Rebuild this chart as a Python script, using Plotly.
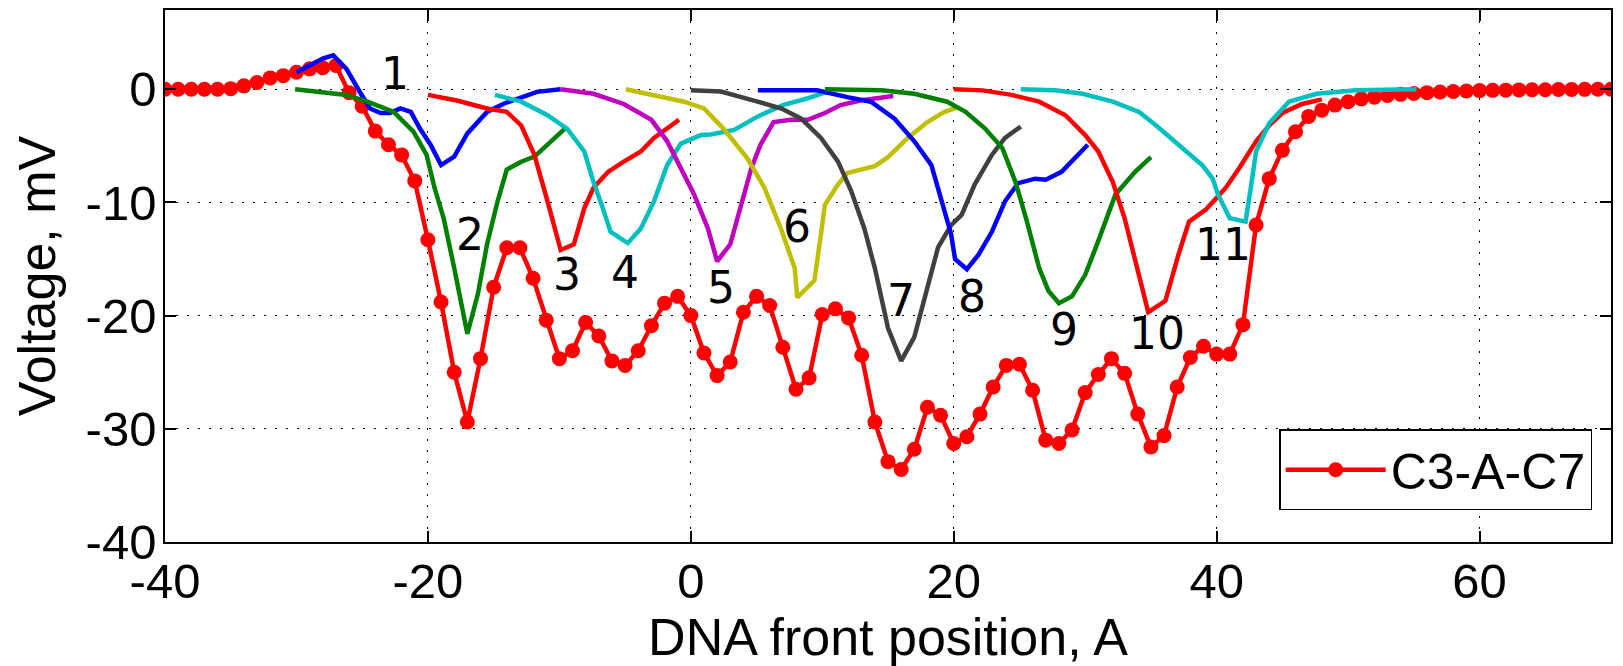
import plotly.graph_objects as go

# ---- main series C3-A-C7 ----
main_x = list(range(-40, 71))
main_y = [0, 0, 0, 0, 0, 0.05, 0.3, 0.6, 1.0, 1.2,
          1.5, 1.8, 1.9, 2.1, -0.3, -1.5, -3.7, -4.9, -5.8, -8.1,
          -13.3, -18.8, -25.0, -29.4, -23.8, -17.5, -14.0, -14.0, -16.7, -20.4,
          -23.8, -23.1, -20.6, -21.8, -24.0, -24.4, -23.1, -20.9, -18.9, -18.3,
          -20.0, -23.3, -25.3, -24.1, -19.7, -18.3, -19.1, -22.8, -26.5, -25.5,
          -19.9, -19.4, -20.2, -23.5, -29.4, -32.9, -33.6, -31.8, -28.1, -28.8,
          -31.3, -30.7, -28.7, -26.3, -24.4, -24.3, -26.6, -31.0, -31.3, -30.1,
          -26.8, -25.2, -23.8, -25.1, -28.7, -31.6, -30.6, -26.3, -23.7, -22.7,
          -23.4, -23.4, -20.8, -12.0, -7.9, -5.4, -3.75, -2.4, -1.85, -1.4,
          -1.1, -0.85, -0.7, -0.55, -0.45, -0.38, -0.3, -0.25, -0.2, -0.15,
          -0.12, -0.1, -0.08, -0.06, -0.05, -0.04, -0.03, -0.02, -0.01, 0, 0]

# ---- numbered single-event curves ----
c1_x = [-30, -29, -28, -27.2, -26.2, -25.2, -24.4, -23.6, -22.9, -22.1, -21.3, -20.6, -19.8, -19.0, -18.0, -17.0, -15.5, -14.2, -12.9, -11.7, -9.9]
c1_y = [1.5, 2.1, 2.7, 3.0, 1.8, -0.2, -1.7, -2.1, -2.1, -1.7, -2.0, -3.5, -4.9, -6.7, -5.95, -3.9, -2.0, -1.26, -0.67, -0.23, 0.0]

c2_x = [-30.1, -28.2, -26.2, -24.6, -22.6, -21.1, -20.1, -19.5, -18.8, -18.0, -17.0, -16.2, -15.5, -14.7, -14.0, -12.9, -11.9, -10.9, -9.6]
c2_y = [0.0, -0.2, -0.5, -1.1, -2.0, -3.75, -5.8, -8.7, -11.4, -15.8, -21.6, -18.1, -13.7, -9.9, -7.1, -6.4, -5.95, -4.9, -3.5]

c3_x = [-20, -17.8, -15.5, -14.0, -12.9, -11.9, -10.9, -9.9, -8.9, -8.1, -7.4, -6.3, -5.1, -3.8, -2.8, -0.9]
c3_y = [-0.5, -1.0, -1.7, -2.0, -3.2, -5.8, -9.9, -14.2, -13.7, -10.5, -8.7, -7.3, -6.4, -5.5, -4.3, -2.7]

c4_x = [-14.9, -12.9, -10.9, -9.4, -8.1, -7.4, -6.7, -6.1, -4.8, -3.8, -2.8, -1.8, -0.76, 0.76, 1.5, 3.3, 5.1, 7.0, 8.9, 10.4]
c4_y = [-0.5, -1.1, -2.3, -3.5, -5.5, -8.2, -10.5, -12.6, -13.6, -12.3, -9.9, -6.7, -4.8, -4.05, -4.0, -3.6, -2.4, -1.4, -0.8, -0.2]

c5_x = [-9.9, -7.4, -5.1, -3.0, -1.8, -0.5, 0.25, 1.3, 2.0, 3.0, 3.8, 4.6, 5.3, 6.3, 7.6, 8.9, 10.2, 11.4, 12.9, 14.5, 15.4]
c5_y = [0.0, -0.4, -1.3, -2.7, -4.6, -7.6, -9.3, -12.3, -15.2, -13.7, -10.5, -7.0, -4.9, -2.9, -2.7, -2.7, -2.1, -1.4, -1.0, -0.7, -0.6]

c6_x = [-4.95, -2.8, -0.5, 1.0, 2.5, 4.3, 5.6, 6.85, 7.9, 8.1, 9.4, 9.9, 10.2, 11.2, 11.9, 14.0, 15.0, 16.5, 18.0, 19.3, 20.3]
c6_y = [0.0, -0.5, -1.1, -1.7, -3.5, -6.1, -8.7, -12.3, -15.8, -18.4, -16.9, -12.8, -10.2, -8.4, -7.4, -6.8, -6.0, -4.3, -2.9, -2.0, -1.6]

c7_x = [0, 2.3, 4.8, 6.9, 8.4, 9.9, 11.2, 12.2, 13.2, 14.0, 15.0, 16.0, 17.0, 18.0, 18.8, 19.8, 20.6, 21.6, 22.9, 23.9, 25.1]
c7_y = [-0.1, -0.2, -1.0, -1.7, -2.6, -4.3, -6.4, -9.0, -12.3, -15.8, -21.1, -24.0, -21.9, -17.5, -14.0, -12.0, -11.1, -8.4, -5.8, -4.3, -3.3]

c8_x = [5.1, 9.6, 11.9, 13.7, 15.5, 17.0, 18.3, 19.0, 19.8, 20.1, 21.0, 21.9, 22.9, 23.9, 24.9, 26.2, 27.0, 28.2, 30.2]
c8_y = [-0.1, -0.1, -0.7, -1.1, -2.6, -4.6, -6.7, -9.6, -12.8, -15.0, -15.9, -14.6, -12.6, -9.9, -8.3, -7.9, -8.0, -7.3, -4.9]

c9_x = [10.2, 14.5, 17.0, 19.5, 20.9, 22.4, 23.7, 24.7, 25.5, 26.5, 27.2, 28.0, 29.0, 30.0, 31.0, 32.3, 33.8, 35.0]
c9_y = [0.0, -0.1, -0.4, -1.1, -2.0, -3.5, -5.2, -8.2, -11.4, -15.8, -17.8, -18.9, -18.3, -16.4, -13.4, -9.3, -7.3, -6.0]

c10_x = [20, 22.2, 24.4, 26.5, 28.5, 30.0, 31.0, 32.1, 33.0, 33.8, 34.8, 36.1, 37.1, 37.9, 39.2, 40.0, 40.7, 41.7, 43.0, 44.0, 45.0, 46.5, 48.0]
c10_y = [0.0, -0.1, -0.5, -1.1, -2.3, -4.05, -5.5, -8.2, -11.4, -15.2, -19.7, -18.7, -14.6, -11.7, -10.6, -9.6, -8.7, -7.0, -4.6, -3.2, -2.1, -1.3, -0.9]

c11_x = [25.1, 27.7, 29.8, 32.1, 34.1, 35.4, 37.1, 38.9, 39.7, 40.1, 41.0, 42.2, 42.6, 43.0, 44.0, 45.5, 47.6, 50.6, 55.2]
c11_y = [0.0, -0.1, -0.4, -1.1, -2.0, -3.2, -4.9, -6.7, -7.9, -9.3, -11.4, -11.7, -8.7, -5.5, -3.0, -1.1, -0.4, -0.1, 0.0]

curve_xs = [c1_x, c2_x, c3_x, c4_x, c5_x, c6_x, c7_x, c8_x, c9_x, c10_x, c11_x]
curve_ys = [c1_y, c2_y, c3_y, c4_y, c5_y, c6_y, c7_y, c8_y, c9_y, c10_y, c11_y]
curve_colors = ["#0000ff", "#008000", "#ff0000", "#00bfbf", "#bf00bf", "#bfbf00", "#404040",
                "#0000ff", "#008000", "#ff0000", "#00bfbf"]

# ---- curve number labels ----
label_text = ["1", "2", "3", "4", "5", "6", "7", "8", "9", "10", "11"]
label_x = [-22.5, -16.8, -9.4, -5.0, 2.3, 8.1, 16.0, 21.4, 28.4, 35.5, 40.5]
label_y = [1.35, -12.8, -16.4, -16.2, -17.5, -12.1, -18.7, -18.3, -21.2, -21.6, -13.7]

x_ticks = [-40, -20, 0, 20, 40, 60]
y_ticks = [-40, -30, -20, -10, 0]

AX_FONT = "Liberation Sans, Arial, Helvetica, sans-serif"

fig = go.Figure()

fig.add_trace(go.Scatter(
    x=main_x, y=main_y, mode="lines+markers", name="C3-A-C7",
    line=dict(color="#ff0000", width=4.5),
    marker=dict(color="#ff0000", size=15, symbol="circle"),
    showlegend=True,
))

for cx, cy, col in zip(curve_xs, curve_ys, curve_colors):
    fig.add_trace(go.Scatter(
        x=cx, y=cy, mode="lines", line=dict(color=col, width=4.5),
        showlegend=False, hoverinfo="skip",
    ))

for t, lx, ly in zip(label_text, label_x, label_y):
    fig.add_annotation(x=lx, y=ly, text=t, showarrow=False,
                       font=dict(family="DejaVu Sans, sans-serif", size=44, color="black"),
                       xanchor="center", yanchor="middle")

axis_common = dict(
    showline=True, linecolor="black", linewidth=1.5, mirror="ticks",
    ticks="inside", ticklen=11, tickwidth=1.5, tickcolor="black",
    showgrid=True, gridcolor="black", gridwidth=1, griddash="2px,9px",
    zeroline=False,
    tickfont=dict(family=AX_FONT, size=49, color="black"),
)

fig.update_xaxes(
    range=[-40, 70], tickvals=x_ticks, ticktext=[str(v) for v in x_ticks],
    title=dict(text="DNA front position, A", font=dict(family=AX_FONT, size=52, color="black"), standoff=0),
    ticklabelstandoff=-5,
    **axis_common,
)
fig.update_yaxes(
    range=[-40, 7], tickvals=y_ticks, ticktext=[str(v) for v in y_ticks],
    title=dict(text="Voltage, mV", font=dict(family=AX_FONT, size=52, color="black"), standoff=13),
    ticklabelstandoff=-3,
    **axis_common,
)

fig.update_layout(
    width=1623, height=666,
    margin=dict(l=165, r=12, t=8, b=124),
    paper_bgcolor="white", plot_bgcolor="white",
    showlegend=True,
    legend=dict(
        x=0.987, y=0.212, xanchor="right", yanchor="top",
        bgcolor="white", bordercolor="black", borderwidth=1.5,
        font=dict(family=AX_FONT, size=50, color="black"),
        itemwidth=100,
    ),
)

fig.write_html("out.html")
